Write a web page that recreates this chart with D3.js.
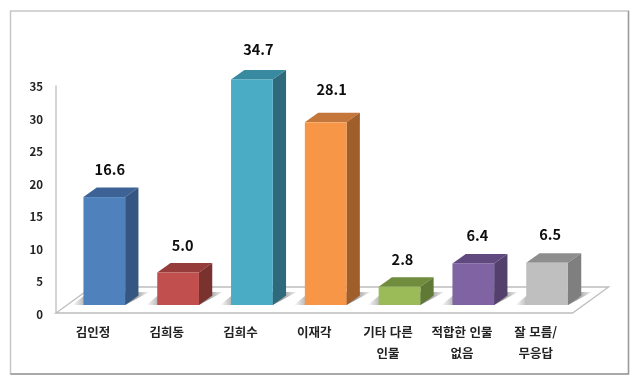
<!DOCTYPE html>
<html lang="ko">
<head>
<meta charset="utf-8">
<script src="https://cdn.jsdelivr.net/npm/d3@7"></script>
<style>
  html, body { margin: 0; padding: 0; background: #fff; }
  svg { display: block; font-family: "Noto Sans CJK KR", "Noto Sans", sans-serif; }
</style>
</head>
<body>
<div id="chart"></div>
<script>
const categories = [
  ["김인정"], ["김희동"], ["김희수"], ["이재각"],
  ["기타 다른", "인물"], ["적합한 인물", "없음"], ["잘 모름/", "무응답"]
];
const values = [16.6, 5.0, 34.7, 28.1, 2.8, 6.4, 6.5];
const yTicks = [0, 5, 10, 15, 20, 25, 30, 35];

const frontColors = ["#4f81bd", "#c0504d", "#4bacc6", "#f79646", "#9bbb59", "#8064a2", "#bfbfbf"];
const topColors   = ["#3c6496", "#963c3a", "#398aa0", "#c4763a", "#6f8c3e", "#5f4a7e", "#8e8e8e"];
const sideColors  = ["#345680", "#7a302e", "#2e6a7b", "#a05e2a", "#5f7a34", "#53406c", "#7f7f7f"];

// value labels were placed by hand in the original, nudges in px
const labelNudgeX = [0.5, -0.5, 1.5, 1, -2, -1, -2];
const labelNudgeY = [-1, 0, -3, -6, 0, -1, -1];

const W = 640, H = 385;
const axisX = 56, floorRight = 572.6;
const axisBottom = 313, axisTop = 85.5;
const floorDx = 36, floorDy = 26;        // floor depth
const barLift = 8, barShift = 11.4;      // bars stand inside the floor
const depthX = 13.3, depthY = 9.5;       // bar depth

const svg = d3.select("#chart").append("svg")
  .attr("width", W).attr("height", H)
  .attr("viewBox", `0 0 ${W} ${H}`);

const defs = svg.append("defs");
const shadowGrad = defs.append("linearGradient").attr("id", "shadow");
[[0, 0], [0.22, 0.6], [0.5, 0.7], [0.8, 0.62], [1, 0.05]].forEach(([o, a]) => {
  shadowGrad.append("stop")
    .attr("offset", o)
    .attr("stop-color", "#555")
    .attr("stop-opacity", a);
});
defs.append("filter").attr("id", "soft")
  .append("feGaussianBlur").attr("stdDeviation", 0.45);
defs.append("filter").attr("id", "softText")
  .append("feGaussianBlur").attr("stdDeviation", 0.3);

// ── Frame ───────────────────────────────────────────────
svg.append("rect")
  .attr("x", 10.5).attr("y", 11)
  .attr("width", 618).attr("height", 363)
  .attr("fill", "#fff")
  .attr("stroke", "#c4c4c4").attr("stroke-width", 1.4);
svg.append("path")
  .attr("d", "M628.5,11V374H10.5")
  .attr("fill", "none")
  .attr("stroke", "#9a9a9a").attr("stroke-width", 1.4);

// ── Scales ──────────────────────────────────────────────
const x = d3.scaleBand()
  .domain(d3.range(categories.length))
  .range([axisX, floorRight])
  .paddingInner(0.435)
  .paddingOuter(0.2175);

const y = d3.scaleLinear()
  .domain([0, 35])
  .range([axisBottom, axisTop]);

const barX = i => x(i) + barShift;
const barTop = v => y(v) - barLift;
const barBase = y(0) - barLift;
const bw = x.bandwidth();

// ── Floor + wall ────────────────────────────────────────
const floor = svg.append("g").attr("filter", "url(#soft)");
floor.append("path")
  .attr("d", `M${axisX},${y(0)}L${floorRight},${y(0)}L${floorRight + floorDx},${y(0) - floorDy}L${axisX + floorDx},${y(0) - floorDy}Z`)
  .attr("fill", "#fff")
  .attr("stroke", "#bdbdbd").attr("stroke-width", 1.3);
floor.append("line")
  .attr("x1", axisX).attr("x2", axisX)
  .attr("y1", y(35)).attr("y2", y(0))
  .attr("stroke", "#bdbdbd").attr("stroke-width", 1.3);

// ── Y axis ──────────────────────────────────────────────
svg.append("g")
  .attr("transform", `translate(${axisX},0)`)
  .attr("filter", "url(#softText)")
  .call(d3.axisLeft(y).tickValues(yTicks).tickSize(0).tickPadding(13))
  .call(ax => ax.select(".domain").remove())
  .selectAll("text")
    .attr("dy", "0.45em")
    .attr("font-family", "\"Noto Sans CJK KR\", sans-serif")
    .attr("font-size", "11.5px")
    .attr("font-weight", 700)
    .attr("fill", "#222");

// ── X labels ────────────────────────────────────────────
const xLabels = svg.append("g")
  .attr("filter", "url(#softText)")
  .selectAll("text")
  .data(categories)
  .join("text")
    .attr("text-anchor", "middle")
    .attr("font-size", "12.5px")
    .attr("font-weight", 700)
    .attr("fill", "#222");
xLabels.selectAll("tspan")
  .data((d, i) => d.map((line, j) => ({ line, j, cx: x(i) + bw / 2 })))
  .join("tspan")
    .attr("x", d => d.cx)
    .attr("y", d => 336.5 + d.j * 21)
    .text(d => d.line);

// ── Bars ────────────────────────────────────────────────
const bars = svg.append("g")
  .attr("filter", "url(#soft)")
  .selectAll("g")
  .data(values)
  .join("g");

// floor shadow
bars.append("path")
  .attr("d", (d, i) => {
    const l = barX(i), r = l + bw;
    return `M${l - 11},${barBase}L${r},${barBase}L${r + 24},${barBase - 13}L${l + 5},${barBase - 13}Z`;
  })
  .attr("fill", "url(#shadow)");

// top face
bars.append("path")
  .attr("d", (d, i) => {
    const l = barX(i), r = l + bw, t = barTop(d);
    return `M${l},${t}L${r},${t}L${r + depthX},${t - depthY}L${l + depthX},${t - depthY}Z`;
  })
  .attr("fill", (d, i) => topColors[i]);

// side face
bars.append("path")
  .attr("d", (d, i) => {
    const r = barX(i) + bw, t = barTop(d);
    return `M${r},${t}L${r + depthX},${t - depthY}L${r + depthX},${barBase - depthY}L${r},${barBase}Z`;
  })
  .attr("fill", (d, i) => sideColors[i]);

// front face
bars.append("rect")
  .attr("x", (d, i) => barX(i))
  .attr("y", d => barTop(d))
  .attr("width", bw)
  .attr("height", d => barBase - barTop(d))
  .attr("fill", (d, i) => frontColors[i]);

// ── Value labels ────────────────────────────────────────
svg.append("g")
  .attr("filter", "url(#softText)")
  .selectAll("text")
  .data(values)
  .join("text")
    .attr("x", (d, i) => barX(i) + bw / 2 + 5 + labelNudgeX[i])
    .attr("y", (d, i) => barTop(d) - 21.5 + labelNudgeY[i])
    .attr("text-anchor", "middle")
    .attr("font-size", "14.5px")
    .attr("font-weight", 700)
    .attr("fill", "#111")
    .text(d => d.toFixed(1));
</script>
</body>
</html>
